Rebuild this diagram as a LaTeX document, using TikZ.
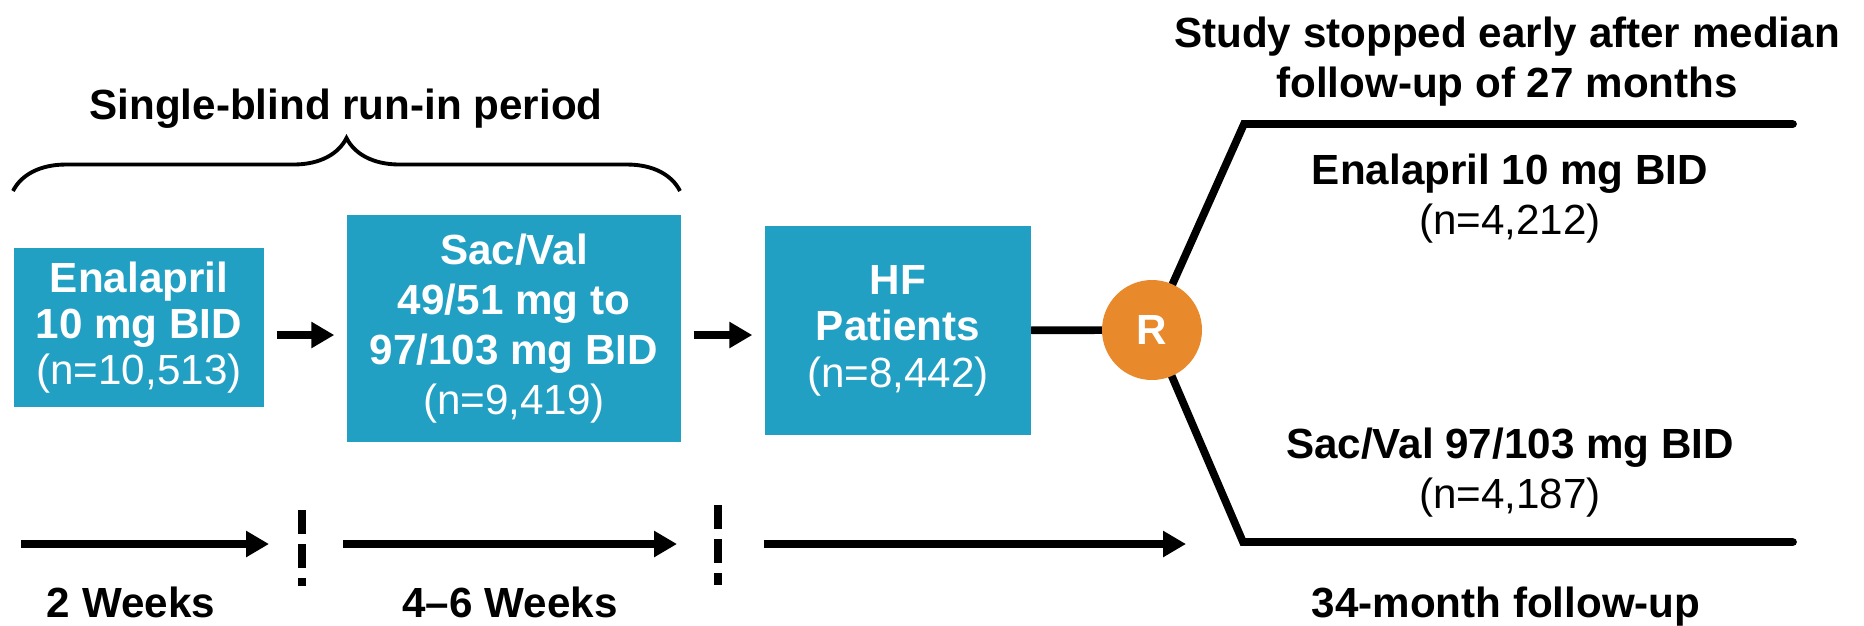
\documentclass[tikz,border=0pt]{standalone}
\usepackage{fontspec}
\setmainfont{Liberation Sans}
\usetikzlibrary{arrows.meta, decorations.pathreplacing, backgrounds}

\definecolor{trialteal}{RGB}{33,160,196}
\definecolor{randorange}{RGB}{232,137,43}

\begin{document}
\begin{tikzpicture}[
  every node/.style={font=\fontsize{12}{14.2}\selectfont\bfseries, inner sep=0pt, align=center},
  drug/.style={fill=trialteal, text=white},
  tight/.style={font=\fontsize{12}{13.2}\selectfont\bfseries},
  flow/.style={line width=2.2pt, -{Triangle[length=0.23cm, width=0.25cm]}},
  link/.style={line width=2.2pt, line cap=round},
  phase/.style={line width=2.3pt, dash pattern=on 0.24cm off 0.1cm},
]
  \useasboundingbox (0,0) rectangle (18.64,-6.25);

  % Run-in heading and brace
  \node[anchor=north] (runin) at (3.46,-0.88) {Single-blind run-in period};
  \draw[decorate, decoration={brace, amplitude=0.53cm}, line width=1.1pt] (0.13,-1.91) -- (6.80,-1.91);

  % Treatment boxes
  \node[drug, tight, minimum width=2.50cm, minimum height=1.59cm] (enal) at (1.39,-3.275)
    {Enalapril\\10 mg BID\\{\mdseries (n=10,513)}};
  \node[drug, minimum width=3.34cm, minimum height=2.27cm] (sacval) at (5.14,-3.285)
    {Sac/Val\\49/51 mg to\\97/103 mg BID\\{\mdseries (n=9,419)}};
  \node[drug, tight, minimum width=2.66cm, minimum height=2.09cm] (hf) at (8.98,-3.305)
    {HF\\Patients\\{\mdseries (n=8,442)}};

  % Randomisation
  \node[circle, fill=randorange, text=white, minimum size=1.0cm] (rand) at (11.52,-3.30) {R};

  % Arrows between the boxes
  \coordinate (row) at (0,-3.35);
  \draw[flow, shorten <=0.12cm, shorten >=0.12cm] (enal.east |- row) -- (sacval.west |- row);
  \draw[flow, shorten <=0.12cm, shorten >=0.12cm] (sacval.east |- row) -- (hf.west |- row);

  % Two arms after randomisation
  \coordinate (upbend) at (12.44,-1.24);
  \coordinate (upend) at (17.93,-1.24);
  \coordinate (lowbend) at (12.43,-5.42);
  \coordinate (lowend) at (17.93,-5.42);
  \begin{scope}[on background layer]
    \draw[link] (hf) -- (rand);
    \draw[link] (rand.center) -- (upbend) -- (upend);
    \draw[link] (rand.center) -- (lowbend) -- (lowend);
  \end{scope}

  \node[anchor=north] (stopped) at (15.07,-0.16) {Study stopped early after median\\follow-up of 27 months};
  \node[anchor=north] (enalarm) at (15.10,-1.53) {Enalapril 10 mg BID\\{\mdseries (n=4,212)}};
  \node[anchor=north] (sacarm) at (15.10,-4.27) {Sac/Val 97/103 mg BID\\{\mdseries (n=4,187)}};
  \node[anchor=north] (followup) at (15.06,-5.86) {34-month follow-up};

  % Timeline
  \coordinate (w0) at (0.21,-5.44);
  \coordinate (w1) at (2.69,-5.44);
  \coordinate (w2) at (3.43,-5.44);
  \coordinate (w3) at (6.77,-5.44);
  \coordinate (w4) at (7.64,-5.44);
  \coordinate (w5) at (11.86,-5.44);
  \draw[flow] (w0) -- (w1);
  \draw[flow] (w2) -- (w3);
  \draw[flow] (w4) -- (w5);
  \draw[phase] (3.02,-5.10) -- (3.02,-5.86);
  \draw[phase] (7.18,-5.05) -- (7.18,-5.85);

  \node[anchor=north] (twowk) at (1.31,-5.86) {2 Weeks};
  \node[anchor=north] (sixwk) at (5.10,-5.86) {4\textendash6 Weeks};
\end{tikzpicture}
\end{document}
